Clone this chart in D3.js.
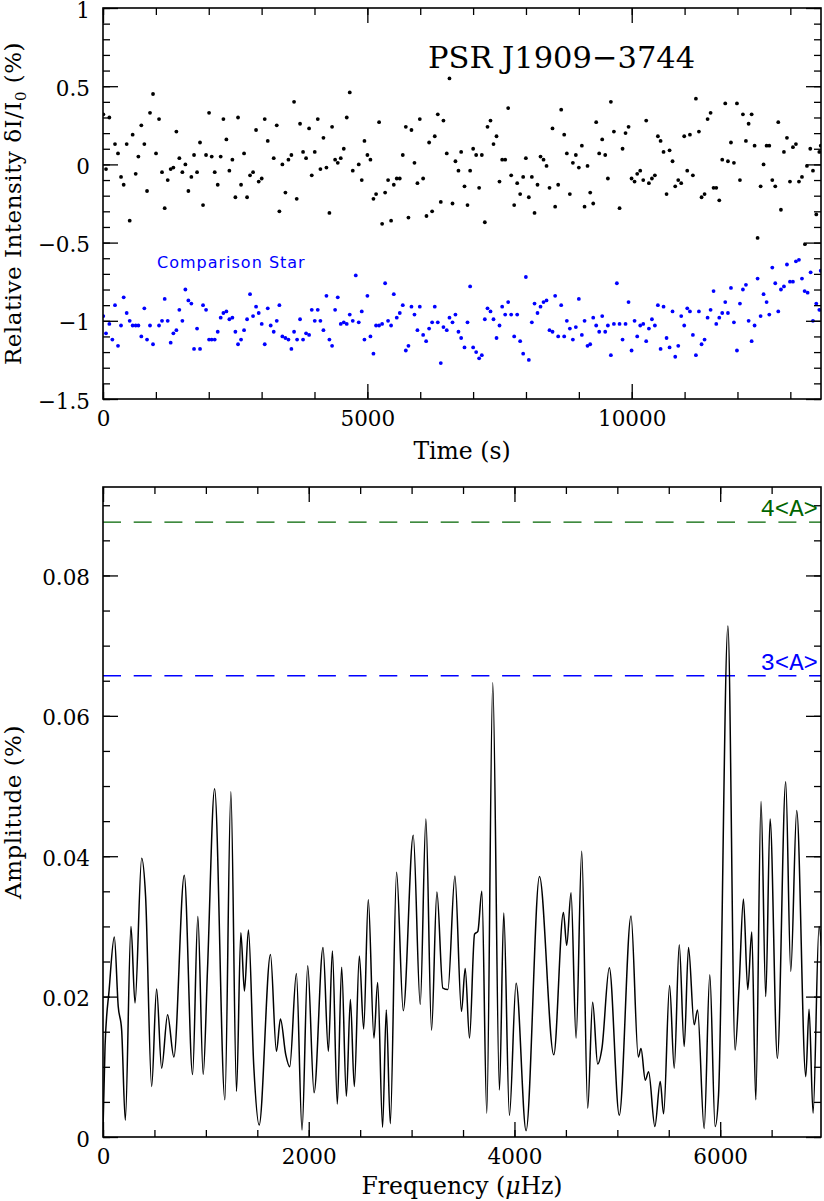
<!DOCTYPE html>
<html lang="en">
<head>
<meta charset="utf-8">
<title>PSR J1909-3744 light curve and amplitude spectrum</title>
<script src="https://cdn.jsdelivr.net/npm/d3@7/dist/d3.min.js"></script>
<style>
  body { margin: 0; background: #fff; }
  svg text { font-family: "DejaVu Serif", serif; fill: #000; }
</style>
</head>
<body>
<svg id="chart" width="824" height="1201"></svg>
<script>

// ---- light curve, pulsar (time s, relative intensity %)
var psrPoints = [
  [6,0.32],[57,-0.03],[120,0.30],[227,0.13],[284,0.07],[341,-0.08],[391,-0.13],[448,0.13],[505,-0.36],[561,0.19],
  [618,-0.06],[669,0.05],[725,0.25],[782,0.13],[833,-0.17],[889,0.33],[946,0.45],[1003,0.07],[1060,0.29],[1116,-0.05],
  [1167,-0.28],[1224,-0.10],[1280,-0.03],[1331,-0.02],[1388,0.21],[1444,0.04],[1501,-0.05],[1558,0.00],[1615,-0.17],[1671,-0.08],
  [1722,0.06],[1779,-0.05],[1835,0.14],[1892,-0.26],[1949,0.06],[2006,0.33],[2056,0.05],[2113,-0.05],[2170,-0.13],[2226,0.05],
  [2277,0.29],[2334,0.16],[2390,-0.04],[2447,0.03],[2504,-0.21],[2554,0.30],[2611,-0.13],[2668,0.07],[2725,-0.21],[2781,-0.07],
  [2838,-0.05],[2895,0.22],[2945,-0.11],[3002,-0.09],[3059,0.29],[3116,0.15],[3229,0.04],[3286,0.25],[3336,-0.30],[3393,0.00],
  [3450,-0.18],[3507,0.03],[3563,0.06],[3614,0.40],[3664,-0.22],[3727,0.26],[3784,0.08],[3841,0.04],[3898,0.23],[3948,-0.07],
  [4005,0.08],[4062,0.29],[4112,-0.03],[4169,0.17],[4226,-0.02],[4282,-0.31],[4333,0.24],[4390,0.03],[4440,0.01],[4497,0.04],
  [4554,0.10],[4610,0.30],[4667,0.46],[4724,-0.04],[4837,0.00],[4894,-0.10],[4945,0.15],[5001,0.06],[5058,0.03],[5115,-0.22],
  [5165,-0.19],[5222,0.27],[5279,-0.38],[5336,-0.18],[5392,-0.10],[5449,-0.36],[5500,-0.13],[5556,-0.09],[5613,-0.09],[5670,0.06],
  [5727,0.24],[5777,-0.34],[5834,0.22],[5891,0.01],[5947,-0.12],[5992,0.29],[6055,-0.09],[6118,-0.33],[6168,0.14],[6225,-0.30],
  [6275,0.18],[6332,0.32],[6389,-0.24],[6439,0.28],[6502,0.07],[6553,0.55],[6610,-0.25],[6666,0.02],[6723,-0.04],[6774,0.08],
  [6837,-0.14],[6894,-0.26],[6944,-0.04],[7001,0.10],[7058,0.06],[7114,-0.15],[7165,0.06],[7222,-0.37],[7272,0.24],[7329,0.28],
  [7386,0.13],[7443,0.18],[7499,-0.11],[7550,0.03],[7607,0.03],[7663,0.36],[7720,-0.07],[7777,-0.26],[7834,-0.12],[7890,-0.19],
  [7947,-0.08],[7998,0.04],[8054,-0.21],[8111,-0.08],[8162,-0.31],[8218,-0.13],[8275,0.05],[8332,0.03],[8389,-0.01],[8445,-0.15],
  [8502,0.23],[8552,-0.27],[8609,-0.13],[8666,0.35],[8723,0.19],[8773,0.07],[8830,-0.19],[8887,0.01],[8943,0.06],[9000,-0.02],
  [9057,0.12],[9108,-0.27],[9164,-0.01],[9215,-0.18],[9272,-0.25],[9328,0.27],[9385,0.07],[9442,0.16],[9499,0.06],[9549,-0.09],
  [9606,0.40],[9663,0.21],[9770,-0.28],[9827,0.10],[9883,0.20],[9940,0.24],[9997,-0.09],[10054,-0.11],[10104,-0.06],[10161,-0.04],
  [10218,-0.10],[10274,0.28],[10325,-0.12],[10382,-0.09],[10438,-0.07],[10495,0.18],[10546,0.15],[10602,0.08],[10659,-0.19],[10716,0.09],
  [10772,0.02],[10823,-0.14],[10880,-0.10],[10936,-0.12],[10993,0.18],[11050,-0.04],[11101,0.19],[11157,-0.07],[11214,0.42],[11271,0.21],
  [11321,-0.21],[11378,-0.19],[11435,0.29],[11492,0.33],[11548,-0.15],[11599,-0.15],[11656,-0.23],[11712,0.03],[11769,0.39],[11820,0.02],
  [11877,0.14],[11933,0.01],[11990,0.39],[12047,-0.10],[12103,0.32],[12160,0.15],[12211,0.26],[12268,0.32],[12324,0.12],[12381,-0.47],
  [12438,-0.14],[12494,0.00],[12551,0.12],[12602,0.12],[12659,-0.10],[12715,-0.14],[12772,0.27],[12822,-0.29],[12879,0.08],[12936,0.17],
  [12993,-0.11],[13049,0.11],[13106,0.13],[13163,-0.11],[13220,-0.08],[13276,-0.51],[13314,-0.01],[13377,0.10],[13428,-0.04],[13491,-0.32],
  [13548,0.08],[13575,0.12]
];

// ---- light curve, comparison star (offset by -1)
var compPoints = [
  [6,-0.97],[57,-1.08],[120,-1.02],[177,-1.12],[227,-0.90],[284,-1.16],[341,-1.03],[391,-0.85],[448,-0.95],[505,-1.00],
  [561,-1.03],[618,-1.03],[669,-1.03],[725,-1.10],[782,-0.92],[833,-1.12],[889,-1.03],[946,-1.15],[1060,-1.03],[1116,-1.00],
  [1167,-0.86],[1224,-1.00],[1280,-1.14],[1331,-1.08],[1388,-1.06],[1444,-0.93],[1501,-1.00],[1558,-0.80],[1615,-0.87],[1671,-0.89],
  [1722,-1.18],[1779,-1.05],[1835,-1.18],[1892,-0.90],[1949,-0.93],[2006,-1.12],[2056,-1.12],[2113,-1.12],[2170,-1.07],[2226,-0.98],
  [2277,-0.95],[2334,-0.94],[2390,-0.99],[2447,-0.98],[2504,-1.07],[2554,-1.15],[2611,-1.12],[2668,-1.06],[2725,-0.99],[2781,-0.83],
  [2838,-0.97],[2895,-0.91],[2945,-0.95],[3002,-1.02],[3059,-1.15],[3116,-0.92],[3172,-1.03],[3229,-1.07],[3286,-1.00],[3336,-0.90],
  [3393,-1.10],[3450,-1.11],[3507,-1.12],[3563,-1.18],[3614,-1.07],[3671,-1.12],[3727,-0.99],[3784,-1.12],[3841,-1.08],[3898,-1.09],
  [3948,-0.93],[4005,-1.00],[4062,-0.93],[4112,-1.00],[4169,-1.06],[4226,-0.84],[4282,-1.12],[4333,-1.16],[4390,-0.93],[4440,-0.85],
  [4497,-1.02],[4554,-1.01],[4610,-1.02],[4667,-0.96],[4724,-1.00],[4781,-0.71],[4837,-1.01],[4894,-0.94],[4945,-1.12],[5001,-0.84],
  [5058,-1.10],[5115,-1.21],[5165,-1.03],[5222,-1.03],[5279,-1.02],[5336,-0.76],[5392,-1.00],[5449,-1.03],[5500,-0.83],[5556,-0.98],
  [5613,-0.95],[5670,-0.90],[5727,-1.19],[5777,-1.16],[5834,-0.91],[5891,-0.96],[5947,-1.06],[5992,-0.91],[6055,-1.09],[6112,-1.13],
  [6168,-1.05],[6225,-1.01],[6275,-0.91],[6332,-1.01],[6389,-1.27],[6439,-1.04],[6502,-1.06],[6553,-0.98],[6610,-1.01],[6666,-0.96],
  [6723,-1.07],[6774,-1.11],[6837,-1.17],[6894,-1.01],[6944,-0.78],[7001,-1.17],[7058,-1.20],[7114,-1.24],[7165,-1.22],[7222,-0.99],
  [7272,-0.92],[7329,-0.94],[7386,-0.99],[7443,-1.11],[7499,-1.03],[7550,-0.91],[7607,-0.96],[7663,-0.88],[7720,-0.96],[7777,-1.10],
  [7834,-0.96],[7890,-1.13],[7947,-1.21],[7998,-0.72],[8054,-1.25],[8111,-1.01],[8162,-0.89],[8218,-0.95],[8275,-0.91],[8332,-0.88],
  [8389,-0.87],[8445,-1.06],[8502,-1.07],[8552,-0.84],[8609,-1.10],[8666,-0.90],[8723,-1.10],[8773,-1.00],[8830,-1.05],[8887,-1.12],
  [8943,-1.04],[9000,-0.86],[9057,-1.09],[9108,-1.00],[9164,-1.16],[9215,-1.15],[9272,-0.98],[9328,-1.03],[9385,-1.07],[9442,-0.97],
  [9499,-1.07],[9549,-1.03],[9606,-1.22],[9663,-1.02],[9719,-0.76],[9770,-1.02],[9827,-1.12],[9883,-1.02],[9940,-0.88],[9997,-1.19],
  [10054,-1.00],[10104,-1.10],[10161,-1.03],[10218,-1.02],[10274,-1.13],[10325,-1.05],[10382,-0.99],[10438,-1.03],[10495,-0.90],[10546,-1.18],
  [10602,-0.91],[10659,-1.11],[10716,-1.17],[10772,-0.94],[10823,-1.23],[10880,-1.16],[10936,-0.97],[10993,-1.03],[11050,-0.92],[11101,-0.94],
  [11157,-1.09],[11214,-1.22],[11271,-0.94],[11321,-1.15],[11378,-1.12],[11435,-0.98],[11492,-0.93],[11548,-0.81],[11599,-1.02],[11656,-0.98],
  [11712,-0.95],[11769,-0.88],[11820,-0.95],[11877,-0.79],[11933,-1.01],[11990,-1.19],[12047,-0.89],[12103,-0.80],[12160,-0.77],[12211,-1.00],
  [12268,-1.13],[12324,-1.03],[12381,-0.73],[12438,-0.97],[12494,-0.83],[12551,-0.88],[12602,-0.96],[12659,-0.66],[12715,-0.76],[12772,-0.94],
  [12822,-0.80],[12879,-0.78],[12936,-0.64],[12993,-0.75],[13049,-0.75],[13106,-0.62],[13163,-0.61],[13220,-0.73],[13270,-0.81],[13327,-0.82],
  [13384,-0.69],[13428,-1.00],[13491,-0.89],[13548,-0.93],[13575,-0.68]
];

// ---- amplitude spectrum, turning points (frequency uHz, amplitude %)
var spectrum = [
  [0,0.001],[20,0.013],[60,0.021],[110,0.0285],[148,0.0186],[181,0.0153],[217,0.0024],[272,0.0300],[311,0.0191],[376,0.0397],
  [414,0.0343],[473,0.0072],[521,0.0211],[570,0.0098],[628,0.0174],[689,0.0114],[790,0.0373],[871,0.0089],[922,0.0314],[974,0.0089],
  [1016,0.0239],[1085,0.0496],[1185,0.0053],[1243,0.0492],[1298,0.0065],[1340,0.0291],[1375,0.0208],[1414,0.0295],[1466,0.0100],[1518,0.0017],
  [1628,0.0260],[1686,0.0122],[1725,0.0168],[1777,0.0117],[1815,0.0100],[1880,0.0233],[1935,0.0010],[1990,0.0244],[2052,0.0063],[2139,0.0270],
  [2191,0.0122],[2230,0.0265],[2278,0.0047],[2320,0.0242],[2366,0.0058],[2405,0.0196],[2443,0.0072],[2492,0.0258],[2534,0.0154],[2579,0.0338],
  [2634,0.0141],[2670,0.0220],[2718,0.0014],[2754,0.0181],[2793,0.0019],[2854,0.0377],[2919,0.0180],[3016,0.0430],[3084,0.0189],[3139,0.0453],
  [3194,0.0152],[3246,0.0349],[3304,0.0212],[3353,0.0210],[3421,0.0372],[3485,0.0179],[3521,0.0240],[3563,0.0141],[3612,0.0289],[3644,0.0293],
  [3683,0.0350],[3731,0.0034],[3789,0.0647],[3854,0.0067],[3896,0.0319],[3951,0.0031],[4016,0.0219],[4113,0.0009],[4243,0.0371],[4382,0.0117],
  [4476,0.0320],[4508,0.0273],[4550,0.0348],[4599,0.0141],[4654,0.0407],[4712,0.0041],[4760,0.0192],[4809,0.0104],[4851,0.0127],[4922,0.0241],
  [5019,0.0031],[5133,0.0315],[5204,0.0114],[5230,0.0126],[5272,0.0081],[5304,0.0093],[5365,0.0015],[5417,0.0079],[5450,0.0033],[5508,0.0216],
  [5553,0.0098],[5602,0.0274],[5650,0.0129],[5692,0.0270],[5747,0.0160],[5780,0.0181],[5844,0.0012],[5899,0.0231],[5951,0.0015],[5984,0.0060],
  [6075,0.0728],[6145,0.0124],[6184,0.0215],[6226,0.0339],[6268,0.0210],[6307,0.0292],[6346,0.0053],[6397,0.0478],[6443,0.0200],[6485,0.0453],
  [6556,0.0112],[6637,0.0506],[6686,0.0236],[6744,0.0465],[6832,0.0086],[6864,0.0182],[6903,0.0034],[6961,0.0300],[6985,0.0272]
];

// significance levels (3<A> and 4<A>)
var levels = [
  {name: "4<A>", value: 0.0876, color: "#006400"},
  {name: "3<A>", value: 0.0657, color: "#0000ff"}
];

// axis ticks
var timeMajor = [0, 5000, 10000],
    timeMinor = d3.range(0, 13001, 1000),
    relMajor = [-1.5, -1, -0.5, 0, 0.5, 1],
    relMinor = d3.range(-15, 11, 1).map(function(d) { return d / 10; }),
    freqMajor = [0, 2000, 4000, 6000],
    freqMinor = d3.range(0, 7000, 500),
    ampMajor = [0, 0.02, 0.04, 0.06, 0.08],
    ampMinor = d3.range(0, 19, 1).map(function(d) { return d * 0.005; });

var svg = d3.select("#chart");
var left = 103, right = 821;

// scales
var xTime = d3.scaleLinear().domain([0, 13580]).range([left, right]);
var yRel  = d3.scaleLinear().domain([-1.5, 1]).range([399, 8]);
var xFreq = d3.scaleLinear().domain([0, 6980]).range([left, right]);
var yAmp  = d3.scaleLinear().domain([0, 0.0926]).range([1137, 487]);

var loc = d3.formatLocale({decimal: ".", thousands: "", grouping: [3], currency: ["", ""], minus: "\u2212"});
var fmt = loc.format("~g");

// draw frame + inward ticks on all four sides
function frame(x, y, xMaj, xMin, yMaj, yMin) {
  var x0 = x.range()[0], x1 = x.range()[1], y0 = y.range()[0], y1 = y.range()[1];
  var g = svg.append("g");

  function put(axis, tx, ty) {
    var a = g.append("g").attr("transform", "translate(" + tx + "," + ty + ")").call(axis);
    a.select(".domain").remove();
    a.selectAll("line").attr("stroke", "#000").attr("stroke-width", 1.3);
    a.selectAll("text").style("font-family", "DejaVu Serif").style("font-size", "21.5px");
    return a;
  }

  put(d3.axisBottom(x).tickValues(xMin).tickSize(-7).tickFormat(""), 0, y0);
  put(d3.axisBottom(x).tickValues(xMaj).tickSize(-15).tickPadding(12).tickFormat(fmt), 0, y0);
  put(d3.axisTop(x).tickValues(xMin).tickSize(-7).tickFormat(""), 0, y1);
  put(d3.axisTop(x).tickValues(xMaj).tickSize(-15).tickFormat(""), 0, y1);
  put(d3.axisLeft(y).tickValues(yMin).tickSize(-7).tickFormat(""), x0, 0);
  put(d3.axisLeft(y).tickValues(yMaj).tickSize(-15).tickPadding(13).tickFormat(fmt), x0, 0)
    .selectAll("text").attr("dy", "0.42em");
  put(d3.axisRight(y).tickValues(yMin).tickSize(-7).tickFormat(""), x1, 0);
  put(d3.axisRight(y).tickValues(yMaj).tickSize(-15).tickFormat(""), x1, 0);

  g.append("rect")
    .attr("x", x0).attr("y", y1)
    .attr("width", x1 - x0).attr("height", y0 - y1)
    .attr("fill", "none").attr("stroke", "#000").attr("stroke-width", 1.6);
}

svg.append("clipPath").attr("id", "clipTop")
  .append("rect").attr("x", left).attr("y", 8).attr("width", right - left).attr("height", 391);
svg.append("clipPath").attr("id", "clipBot")
  .append("rect").attr("x", left).attr("y", 487).attr("width", right - left).attr("height", 650);

/////////////////////
// top panel: light curves
var lcPanel = svg.append("g").attr("clip-path", "url(#clipTop)");

lcPanel.selectAll("circle.psr").data(psrPoints).enter().append("circle")
  .attr("class", "psr")
  .attr("cx", function(d) { return xTime(d[0]); })
  .attr("cy", function(d) { return yRel(d[1]); })
  .attr("r", 1.9).attr("fill", "#000");

lcPanel.selectAll("circle.comp").data(compPoints).enter().append("circle")
  .attr("class", "comp")
  .attr("cx", function(d) { return xTime(d[0]); })
  .attr("cy", function(d) { return yRel(d[1]); })
  .attr("r", 1.9).attr("fill", "#0000ff");

frame(xTime, yRel, timeMajor, timeMinor, relMajor, relMinor);

svg.append("text").attr("x", 428).attr("y", 68)
  .style("font-size", "30.5px").text("PSR J1909\u22123744");

svg.append("text").attr("x", 157).attr("y", 268)
  .style("font-family", "DejaVu Sans").style("font-size", "16px")
  .style("fill", "#0000ff").style("letter-spacing", "1px")
  .text("Comparison Star");

svg.append("text").attr("x", (left + right) / 2).attr("y", 459)
  .attr("text-anchor", "middle").style("font-size", "23.5px").text("Time (s)");

var yl = svg.append("text")
  .attr("transform", "translate(21," + ((8 + 399) / 2) + ") rotate(-90)")
  .attr("text-anchor", "middle").style("font-size", "23px").style("letter-spacing", "0.5px");
yl.append("tspan").text("Relative Intensity \u03b4I/I");
yl.append("tspan").attr("dy", 5).style("font-size", "15px").text("0");
yl.append("tspan").attr("dy", -5).text(" (%)");

/////////////////////
// bottom panel: amplitude spectrum
var ftPanel = svg.append("g").attr("clip-path", "url(#clipBot)");

ftPanel.selectAll("line.level").data(levels).enter().append("line")
  .attr("class", "level")
  .attr("x1", left).attr("x2", right)
  .attr("y1", function(d) { return yAmp(d.value); })
  .attr("y2", function(d) { return yAmp(d.value); })
  .attr("stroke", function(d) { return d.color; })
  .attr("stroke-width", 1.4)
  .attr("stroke-dasharray", "18,12.7");

var line = d3.line()
  .x(function(d) { return xFreq(d[0]); })
  .y(function(d) { return yAmp(d[1]); })
  .curve(d3.curveMonotoneX);

ftPanel.append("path").datum(spectrum)
  .attr("d", line)
  .attr("fill", "none").attr("stroke", "#000").attr("stroke-width", 1.5);

frame(xFreq, yAmp, freqMajor, freqMinor, ampMajor, ampMinor);

svg.selectAll("text.level").data(levels).enter().append("text")
  .attr("class", "level")
  .attr("x", 818).attr("y", function(d) { return yAmp(d.value) - 6; })
  .attr("text-anchor", "end")
  .style("font-family", "Liberation Mono").style("font-size", "24px")
  .style("fill", function(d) { return d.color; })
  .text(function(d) { return d.name; });

svg.append("text").attr("x", (left + right) / 2).attr("y", 1194)
  .attr("text-anchor", "middle").style("font-size", "23.5px")
  .call(function(t) {
    t.append("tspan").text("Frequency (");
    t.append("tspan").style("font-style", "italic").text("\u03bc");
    t.append("tspan").text("Hz)");
  });

svg.append("text")
  .attr("transform", "translate(21," + ((487 + 1137) / 2) + ") rotate(-90)")
  .attr("text-anchor", "middle").style("font-size", "23px").style("letter-spacing", "0.5px")
  .text("Amplitude (%)");

</script>
</body>
</html>
